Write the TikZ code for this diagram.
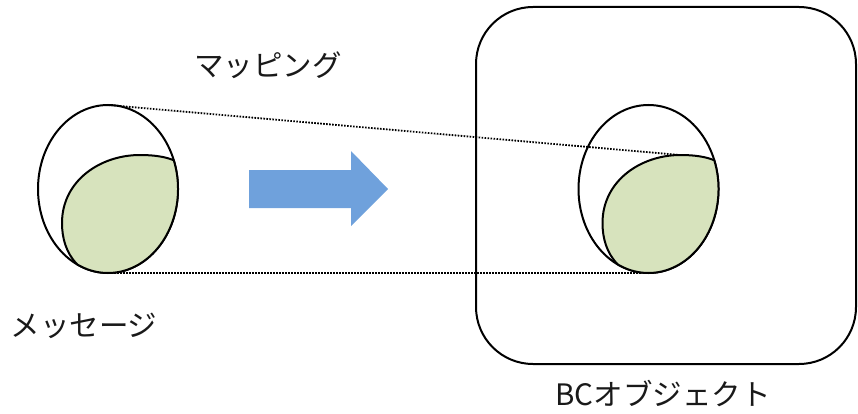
\documentclass[tikz,border=0pt]{standalone}
\usepackage{fontspec}
\newfontfamily\jpfont{Noto Sans CJK JP}
\definecolor{leafgreen}{HTML}{D7E3BD}
\definecolor{arrowblue}{HTML}{6FA1DC}
\begin{document}
\begin{tikzpicture}[x=1pt,y=1pt,
  outline/.style={draw=black,line width=2pt},
  leaf/.style={outline,fill=leafgreen,line join=round},
  mapline/.style={line width=1.8pt,dash pattern=on 1.6pt off 1.4pt},
  caption/.style={font=\jpfont\fontsize{29.5}{32}\selectfont,inner sep=0pt,text=black!90}]
\useasboundingbox (0,0) rectangle (858,413);

% object frame
\draw[outline,rounded corners=57pt] (476,49) rectangle (856,406);

% block arrow
\fill[arrowblue] (249,243) -- (351,243) -- (351,262) -- (388,224)
  -- (351,187) -- (351,205) -- (249,205) -- cycle;

% mapping guides
\coordinate (srctop) at (108,308);
\coordinate (srcbot) at (108,140);
\coordinate (dsttop) at (680,258);
\coordinate (dstbot) at (642,140);
\draw[mapline] (srctop) -- (dsttop);
\draw[mapline] (srcbot) -- (dstbot);

% message and its mapped part, repeated inside the object
\foreach \dx in {0,540.5}{
  \begin{scope}[xshift=\dx pt]
    \draw[outline] (108,224) ellipse [x radius=70, y radius=84];
    \draw[leaf] (108,224) ++(20:70 and 84)
      arc[start angle=20, end angle=-116, x radius=70, y radius=84]
      .. controls (66,160) and (62,175) .. (62,190)
      .. controls (62,232) and (100,258) .. (140,258)
      .. controls (155,258) and (166,256) .. (173.8,252.7) -- cycle;
  \end{scope}
}

% captions
\node[caption] (mapping) at (268,348) {マッピング};
\node[caption] (message) at (84,87) {メッセージ};
\node[caption] (bcobj) at (663,19) {BCオブジェクト};
\end{tikzpicture}
\end{document}
